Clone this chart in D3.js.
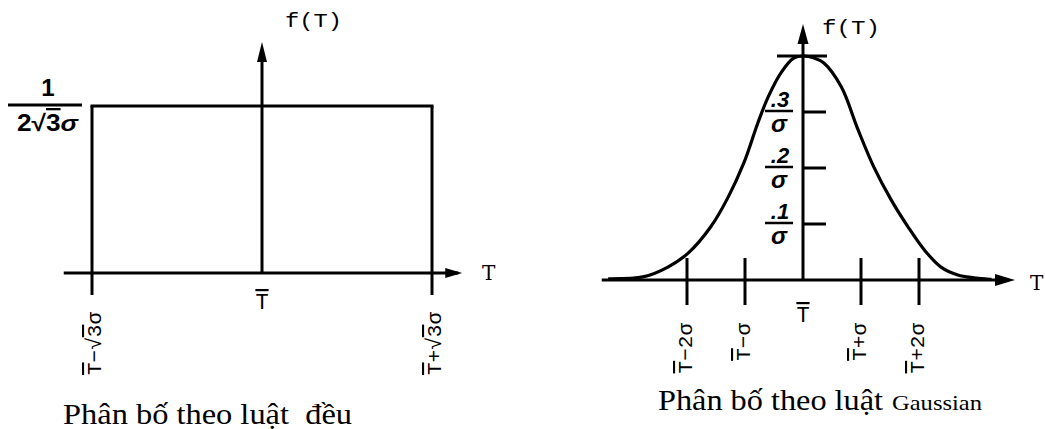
<!DOCTYPE html>
<html>
<head>
<meta charset="utf-8">
<script src="https://cdn.jsdelivr.net/npm/d3@7"></script>
<style>
  html, body { margin: 0; padding: 0; background: #fff; }
  svg { display: block; }
  .mono { font-family: "Liberation Mono", "DejaVu Sans Mono", monospace; }
  .serifT { font-family: "DejaVu Serif", "Liberation Serif", serif; }
  .frac { font-family: "Liberation Sans", "DejaVu Sans", sans-serif; font-weight: bold; font-style: italic; }
  .cap { font-family: "Liberation Serif", "Times New Roman", serif; white-space: pre; }
</style>
</head>
<body>
<svg id="chart" width="1045" height="429"></svg>
<script>
// ---- uniform distribution (left panel), T in units of sigma around the mean ----
const uniformTickPos = [-1.732, 0, 1.732];
const uniformTickLabels = [["T", "−√", "3", "σ"], ["T"], ["T", "+√", "3", "σ"]];
const uniformDensity = 0.2887;          // 1 / (2·√3·σ)

// ---- Gaussian distribution (right panel) ----
const gaussTickPos = [-2, -1, 1, 2];
const gaussTickLabels = [["T", "−2σ"], ["T", "−σ"], ["T", "+σ"], ["T", "+2σ"]];
const gaussYTicks = [0.1, 0.2, 0.3];
const gaussYTickLabels = [".1", ".2", ".3"];
// density curve f(T)·σ sampled along T (in sigma units)
const gaussCurveX = [-3.36, -2.74, -2.33, -1.98, -1.59, -1.29, -1.02, -0.78, -0.60, -0.38, -0.16, 0,
                     0.18, 0.36, 0.66, 0.95, 1.22, 1.52, 1.81, 2.09, 2.38, 2.67, 2.95, 3.25];
const gaussCurveY = [0.002, 0.006, 0.023, 0.048, 0.095, 0.148, 0.209, 0.280, 0.327, 0.370, 0.396, 0.400,
                     0.397, 0.3875, 0.345, 0.268, 0.202, 0.143, 0.095, 0.054, 0.023, 0.009, 0.004, 0.001];

const svg = d3.select("#chart");
const SW = 3;

function arrowHead(g, x, y, dir, len, half) {
  // filled triangle pointing in direction dir ("up" | "right")
  const pts = dir === "up"
    ? [[x, y], [x - half, y + len], [x + half, y + len]]
    : [[x, y], [x - len, y - half], [x - len, y + half]];
  g.append("path").attr("d", d3.line()(pts) + "Z").attr("fill", "#000");
}

function line(g, x1, y1, x2, y2, w) {
  g.append("line").attr("x1", x1).attr("y1", y1).attr("x2", x2).attr("y2", y2)
    .attr("stroke", "#000").attr("stroke-width", w || SW).attr("stroke-linecap", "butt");
}

// label parts: first part "T" carries the bar, a part "3" after "√" carries the vinculum
function labelText(t, parts) {
  parts.forEach((p, i) => {
    const ts = t.append("tspan").text(p);
    if (i === 0 || (i > 0 && parts[i - 1].endsWith("√"))) ts.style("text-decoration", "overline");
  });
}

// ================= left panel =================
const xL = d3.scaleLinear().domain([-1.732, 1.732]).range([92, 432]);
const yL = d3.scaleLinear().domain([0, uniformDensity]).range([273, 106]);
const gL = svg.append("g");

// T axis
line(gL, xL(-2.02), yL(0), xL(2.0), yL(0));
arrowHead(gL, xL(2.04), yL(0), "right", 17, 5);
gL.append("text").attr("class", "serifT").attr("x", 482).attr("y", 280)
  .attr("font-size", 20).text("T");

// f(T) axis
line(gL, xL(0), yL(0), xL(0), 58);
arrowHead(gL, xL(0), 42, "up", 20, 5);
gL.append("text").attr("class", "mono").attr("x", 285).attr("y", 27)
  .attr("font-size", 21).attr("textLength", 57).attr("lengthAdjust", "spacingAndGlyphs").text("f(T)");

// density: flat top plus the two edges
line(gL, xL(-1.732) - 1.5, yL(uniformDensity), xL(1.732) + 1.5, yL(uniformDensity));
uniformTickPos.forEach((p, i) => {
  if (p !== 0) line(gL, xL(p), yL(uniformDensity), xL(p), 295);
});

// tick labels
uniformTickPos.forEach((p, i) => {
  if (p === 0) {
    const t = gL.append("text").attr("class", "mono").attr("x", xL(p)).attr("y", 309)
      .attr("text-anchor", "middle").attr("font-size", 22);
    labelText(t, uniformTickLabels[i]);
  } else {
    const t = gL.append("text").attr("class", "mono")
      .attr("transform", `translate(${xL(p) + 9},312) rotate(-90)`)
      .attr("text-anchor", "end").attr("font-size", 21);
    labelText(t, uniformTickLabels[i]);
  }
});

// density value on the vertical scale: 1 / (2√3 σ)
gL.append("text").attr("class", "frac").attr("x", 48).attr("y", 96)
  .attr("text-anchor", "middle").attr("font-size", 24).style("font-style", "normal").text("1");
line(gL, 8, yL(uniformDensity) - 1, 82, yL(uniformDensity) - 1, 3);
{
  const t = gL.append("text").attr("class", "frac").attr("x", 17).attr("y", 131)
    .attr("font-size", 23).attr("textLength", 61).attr("lengthAdjust", "spacingAndGlyphs")
    .style("font-style", "normal");
  t.append("tspan").text("2√");
  t.append("tspan").text("3").style("text-decoration", "overline");
  t.append("tspan").text("σ").style("font-style", "italic");
}

gL.append("text").attr("class", "cap").attr("x", 63).attr("y", 424)
  .attr("font-size", 30).attr("textLength", 289).attr("lengthAdjust", "spacingAndGlyphs")
  .text("Phân bố theo luật  đều");

// ================= right panel =================
const xR = d3.scaleLinear().domain([-2, 2]).range([687, 919]);
const yR = d3.scaleLinear().domain([0, 0.3]).range([280, 112]);
const gR = svg.append("g");

// T axis
line(gR, xR(-3.47), yR(0), xR(3.4), yR(0));
arrowHead(gR, 1015, yR(0), "right", 20, 6);
gR.append("text").attr("class", "serifT").attr("x", 1030).attr("y", 290)
  .attr("font-size", 20).text("T");

// f(T) axis
line(gR, xR(0), yR(0), xR(0), 40);
arrowHead(gR, xR(0), 24, "up", 20, 5.5);
gR.append("text").attr("class", "mono").attr("x", 822).attr("y", 34)
  .attr("font-size", 21).attr("textLength", 58).attr("lengthAdjust", "spacingAndGlyphs").text("f(T)");

// x ticks
gaussTickPos.forEach(p => line(gR, xR(p), 258, xR(p), 305));
gaussTickPos.forEach((p, i) => {
  const t = gR.append("text").attr("class", "mono")
    .attr("transform", `translate(${xR(p) + 5},323) rotate(-90)`)
    .attr("text-anchor", "end").attr("font-size", 21);
  labelText(t, gaussTickLabels[i]);
});
{
  const t = gR.append("text").attr("class", "mono").attr("x", xR(0)).attr("y", 322)
    .attr("text-anchor", "middle").attr("font-size", 22);
  labelText(t, ["T"]);
}

// y ticks with fraction labels k/σ
gaussYTicks.forEach((v, i) => {
  line(gR, xR(0), yR(v), xR(0) + 23, yR(v));
  line(gR, xR(0) - 38, yR(v) - 1, xR(0) - 10, yR(v) - 1, 2.5);
  gR.append("text").attr("class", "frac").attr("x", xR(0) - 23).attr("y", yR(v) - 5)
    .attr("text-anchor", "middle").attr("font-size", 22).text(gaussYTickLabels[i]);
  gR.append("text").attr("class", "frac").attr("x", xR(0) - 24).attr("y", yR(v) + 20)
    .attr("text-anchor", "middle").attr("font-size", 24).text("σ");
});

// peak marker
const peak = d3.max(gaussCurveY);
line(gR, xR(0) - 26, yR(peak), xR(0) + 24, yR(peak));

// density curve
const curvePts = gaussCurveX.map((x, i) => [xR(x), yR(gaussCurveY[i])]);
gR.append("path")
  .attr("d", d3.line().curve(d3.curveCatmullRom.alpha(0.5))(curvePts))
  .attr("fill", "none").attr("stroke", "#000").attr("stroke-width", 3.2);

gR.append("text").attr("class", "cap").attr("x", 658).attr("y", 410)
  .attr("font-size", 30).attr("textLength", 225).attr("lengthAdjust", "spacingAndGlyphs")
  .text("Phân bố theo luật");
gR.append("text").attr("class", "cap").attr("x", 892).attr("y", 410)
  .attr("font-size", 21).attr("textLength", 90).attr("lengthAdjust", "spacingAndGlyphs")
  .text("Gaussian");
</script>
</body>
</html>
